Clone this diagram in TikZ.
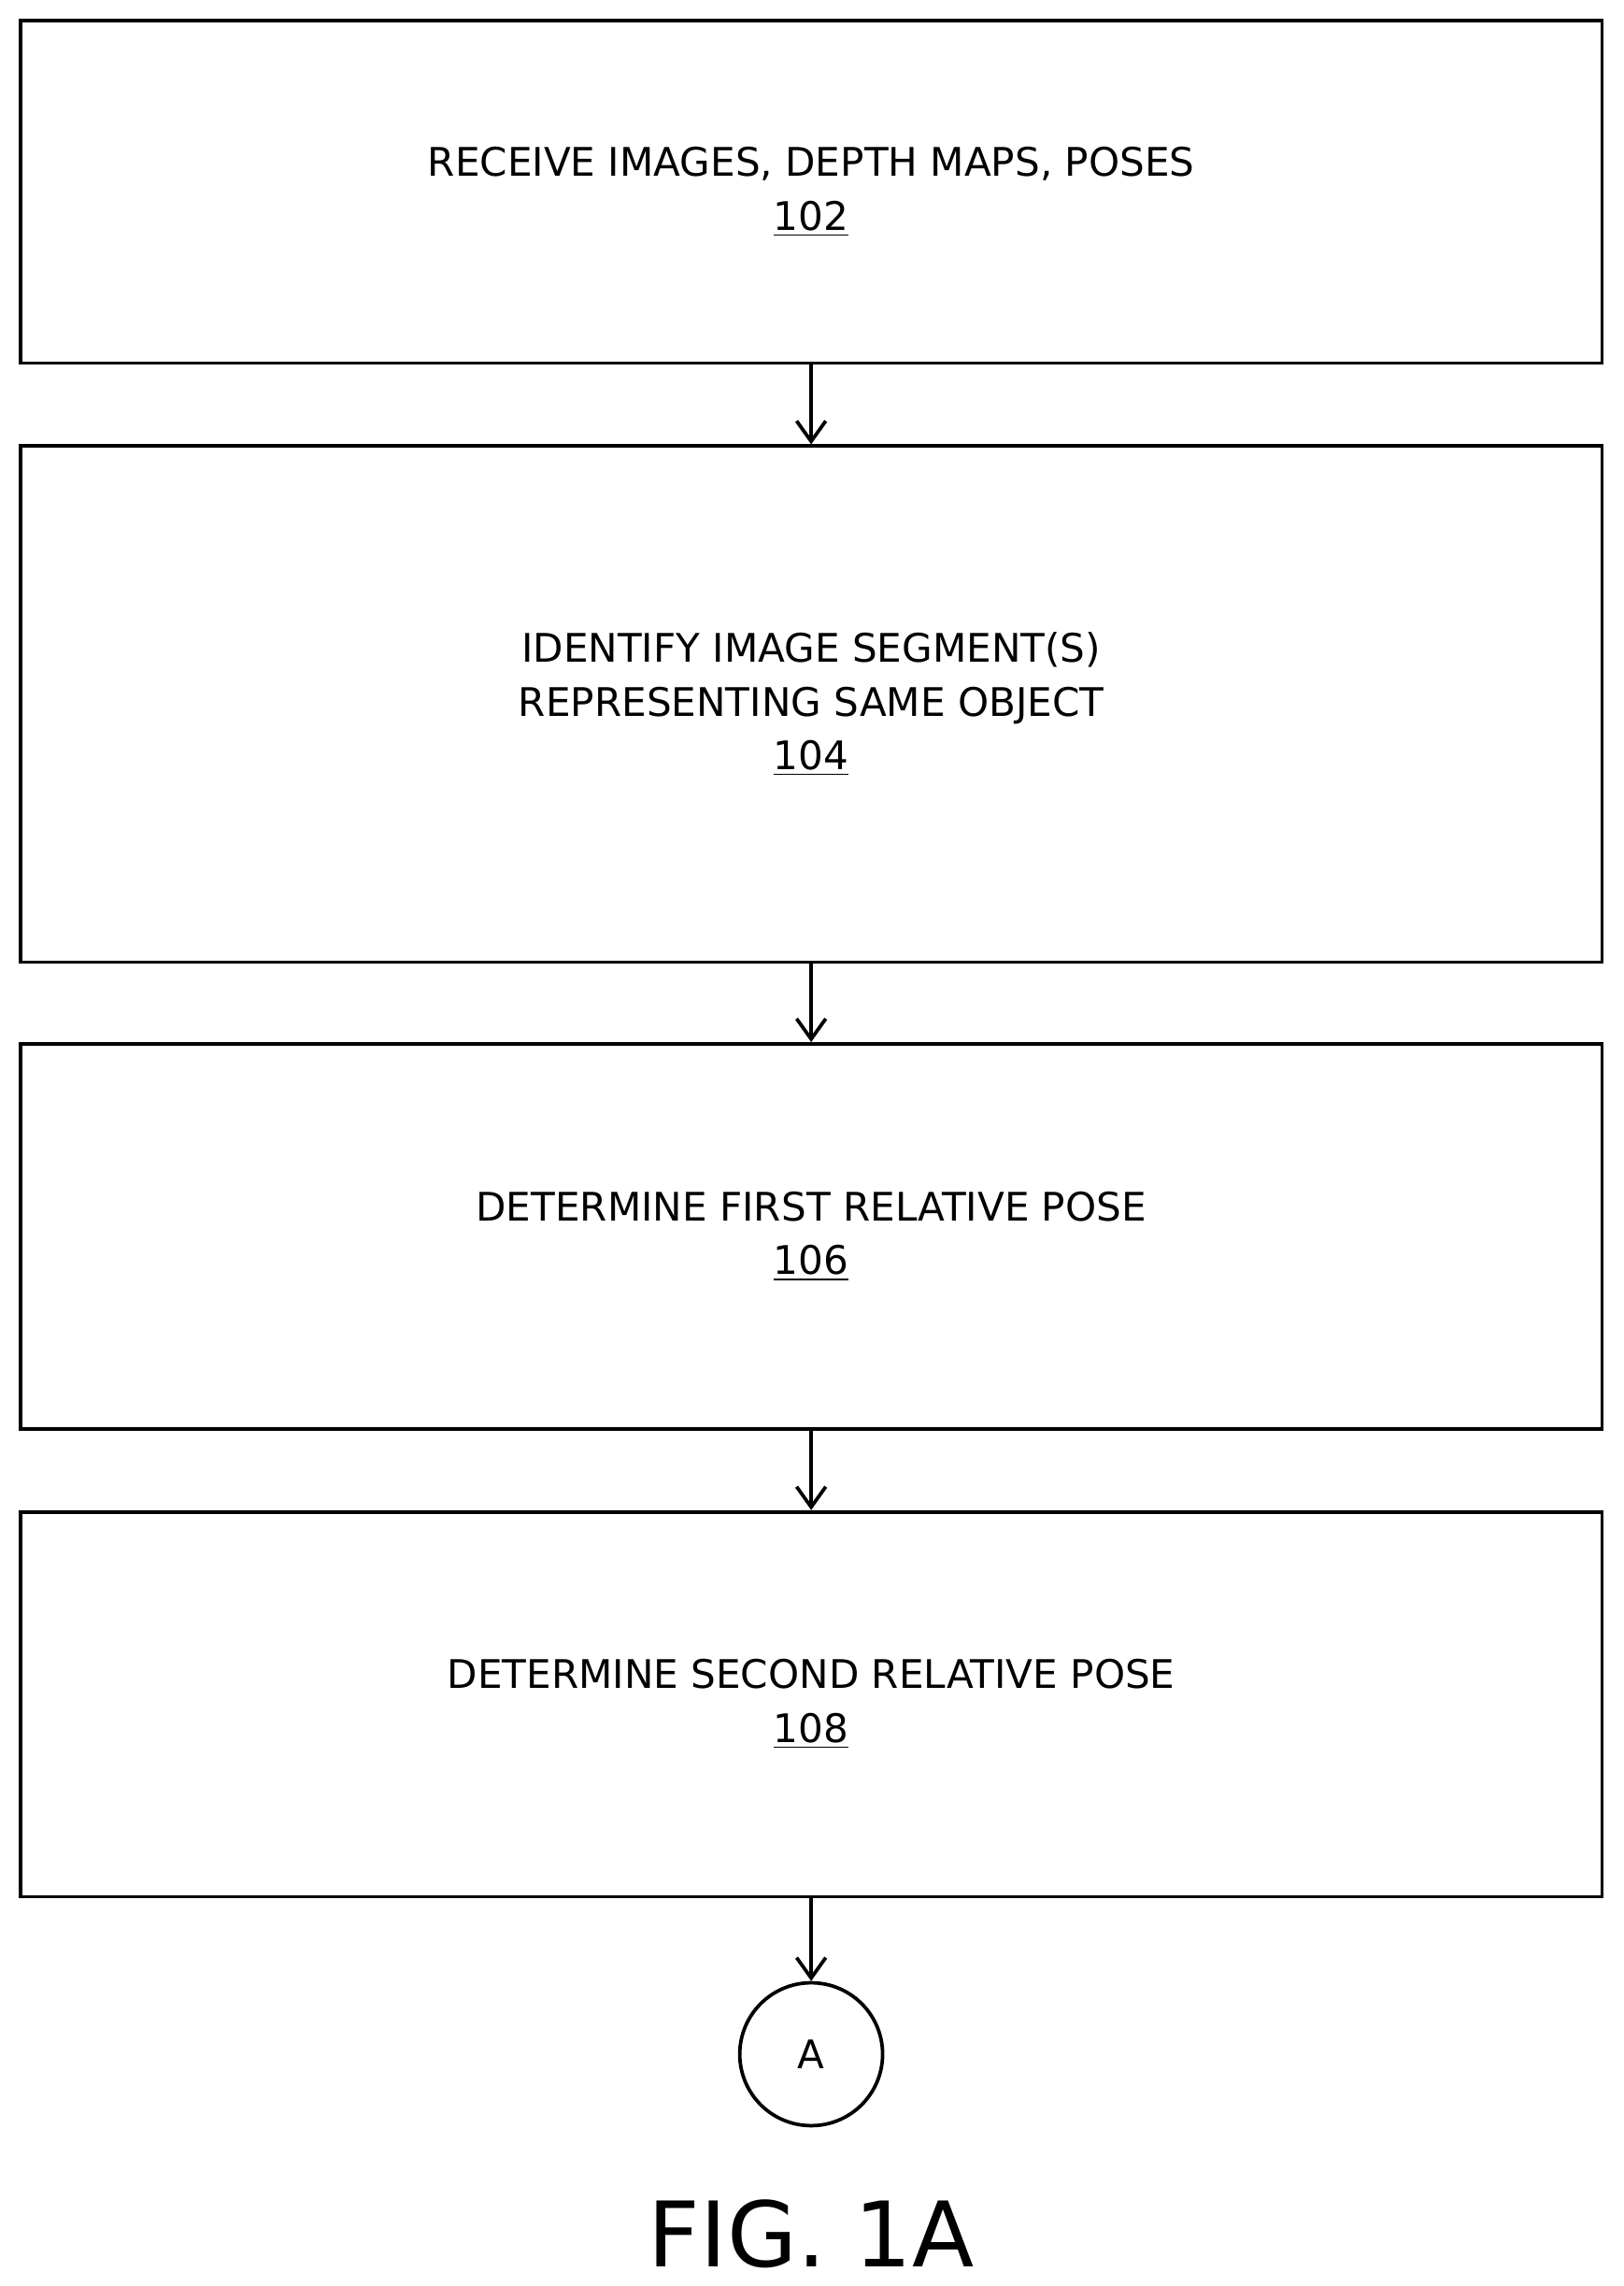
\documentclass[tikz,border=0pt]{standalone}
\usepackage{fontspec}
\setmainfont{DejaVu Sans}
\usetikzlibrary{arrows.meta}
\begin{document}
\begin{tikzpicture}[x=0.5pt,y=-0.5pt,
  stepbox/.style={draw,line width=1.2pt,minimum width=542.5pt,align=center,font=\fontsize{13.5}{18.5}\selectfont},
  conn/.style={-{Straight Barb[length=7pt,width=10pt]},line width=1.2pt}]
\useasboundingbox (0,0) rectangle (1114,1568);
\node[stepbox,minimum height=117.5pt] (b1) at (556.5,131.5) {RECEIVE IMAGES, DEPTH MAPS, POSES\\\underline{102}};
\node[stepbox,minimum height=177pt] (b2) at (556.5,483) {IDENTIFY IMAGE SEGMENT(S)\\REPRESENTING SAME OBJECT\\\underline{104}};
\node[stepbox,minimum height=132pt] (b3) at (556.5,848) {DETERMINE FIRST RELATIVE POSE\\\underline{106}};
\node[stepbox,minimum height=132pt] (b4) at (556.5,1169) {DETERMINE SECOND RELATIVE POSE\\\underline{108}};
\node[draw,circle,line width=1.2pt,minimum size=49pt,inner sep=0pt,font=\fontsize{13.5}{16}\selectfont] (c) at (556.5,1409) {A};
\node[font=\fontsize{31}{36}\selectfont] (fig) at (556.5,1532) {FIG. 1A};
\draw[conn] (b1) -- (b2);
\draw[conn] (b2) -- (b3);
\draw[conn] (b3) -- (b4);
\draw[conn] (b4) -- (c);
\end{tikzpicture}
\end{document}
